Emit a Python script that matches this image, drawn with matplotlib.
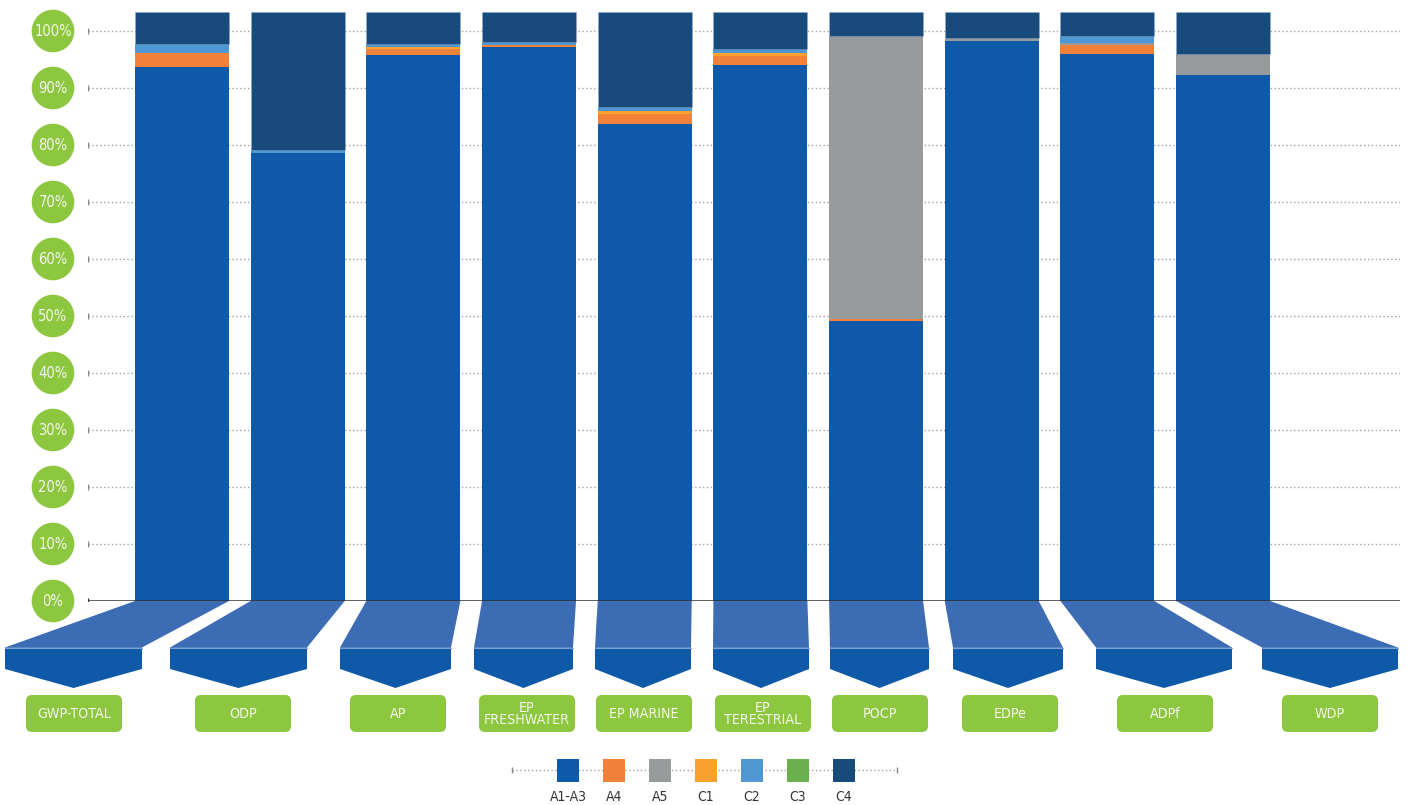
import matplotlib
matplotlib.use("Agg")
import matplotlib.pyplot as plt
from matplotlib.patches import Polygon, FancyBboxPatch, Circle, Rectangle
import numpy as np

# ---- data -------------------------------------------------------------
categories = ["GWP-TOTAL", "ODP", "AP", "EP\nFRESHWATER", "EP MARINE",
              "EP\nTERESTRIAL", "POCP", "EDPe", "ADPf", "WDP"]
stages = ["A1-A3", "A4", "A5", "C1", "C2", "C3", "C4"]

a1_a3 = [93.7, 78.6, 95.8, 97.2, 83.7, 94.0, 49.1, 98.2, 96.0, 92.3]
a4    = [2.5, 0.0, 1.05, 0.35, 1.75, 1.6, 0.35, 0.0, 1.6, 0.0]
a5    = [0.0, 0.0, 0.0, 0.0, 0.0, 0.0, 49.6, 0.5, 0.35, 3.7]
c1    = [0.0, 0.0, 0.35, 0.0, 0.5, 0.5, 0.0, 0.0, 0.0, 0.0]
c2    = [1.6, 0.6, 0.5, 0.5, 0.7, 0.7, 0.0, 0.0, 1.2, 0.0]
c3    = [0.0, 0.0, 0.0, 0.0, 0.0, 0.0, 0.0, 0.0, 0.0, 0.0]
c4    = [5.5, 24.1, 5.6, 5.25, 16.65, 6.5, 4.25, 4.6, 4.15, 7.3]

y_ticks = [0, 10, 20, 30, 40, 50, 60, 70, 80, 90, 100]

# ---- style ------------------------------------------------------------
colors = ["#0e59a8", "#f2823a", "#989b9c", "#f8a12e", "#4f97d2", "#6ab04c", "#184a7c"]
green = "#8dc63f"
funnel_light = "#3c6cb4"
funnel_dark = "#0e59a8"
text_font = dict(family="DejaVu Sans", stretch="condensed")

W, H = 1407, 805
fig = plt.figure(figsize=(W / 100, H / 100), dpi=100)

# main plotting area: 0% at y=601 px, 5.7 px per percent, x from 88 to 1400 px
step = 115.68
bar_w = 94 / step
x0 = -(182 - 88) / step
x1 = x0 + (1400 - 88) / step
ymax = 601 / 5.7
ax = fig.add_axes([88 / W, (H - 601) / H, (1400 - 88) / W, 601 / H])
ax.set_xlim(x0, x1)
ax.set_ylim(0, ymax)
ax.axis("off")

# dotted grid
for t in y_ticks[1:]:
    ax.plot([x0, x1], [t, t], color="#a0a0a0", lw=1.0, ls=(0, (1, 1.8)), zorder=1)
    ax.plot([x0], [t], marker="|", ms=5, color="#888888", mew=1, zorder=1)
ax.plot([x0, x1], [0, 0], color="#333333", lw=1.1, zorder=5)
ax.plot([x0], [0], marker="|", ms=5, color="#333333", mew=1, zorder=5)

series = [a1_a3, a4, a5, c1, c2, c3, c4]
xs = np.arange(len(categories))
bottom = np.zeros(len(categories))
for name, vals, col in zip(stages, series, colors):
    vals = np.array(vals)
    if name == "C4":
        ax.bar(xs, vals, bar_w, bottom=bottom, color=col, zorder=3,
               edgecolor=(0.55, 0.67, 0.80, 0.45), linewidth=0.7)
    else:
        ax.bar(xs, vals, bar_w, bottom=bottom, color=col, zorder=3, linewidth=0)
    bottom += vals

# ---- overlay in pixel units -------------------------------------------
ov = fig.add_axes([0, 0, 1, 1])
ov.set_xlim(0, W)
ov.set_ylim(H, 0)
ov.axis("off")
ov.patch.set_alpha(0)


def to_px(x, y):
    dx, dy = ax.transData.transform((x, y))
    return dx, H - dy


# y-axis labels in green circles
for t in y_ticks:
    _, py = to_px(0, t)
    ov.add_patch(Circle((53, py), 21.3, color=green, lw=0, zorder=2))
    ov.text(53, py + 0.5, f"{t}%", ha="center", va="center", color="#f4f8ec",
            fontsize=10.5, zorder=3, **text_font)

# funnels below each bar
fan_centers = [73.5, 238.5, 395.5, 523.5, 643, 761, 879.5, 1008, 1164, 1330]
fan_widths = [137, 137, 111, 99, 96, 96, 99, 110, 136, 136]
label_centers = [74, 243, 398, 527, 644, 763, 880, 1010, 1165, 1330]
y_top, y_mid, y_rect, y_tip = 601, 647.5, 669, 688
for i, cat in enumerate(categories):
    bl, yb = to_px(i - bar_w / 2, 0)
    br, _ = to_px(i + bar_w / 2, 0)
    pl = fan_centers[i] - fan_widths[i] / 2
    pr = fan_centers[i] + fan_widths[i] / 2
    ov.add_patch(Polygon([(bl, yb), (br, yb), (pr, y_mid), (pl, y_mid)],
                         closed=True, color=funnel_light, lw=0, zorder=2))
    ov.add_patch(Polygon([(pl, y_mid), (pr, y_mid), (pr, y_rect),
                          (fan_centers[i], y_tip), (pl, y_rect)],
                         closed=True, color=funnel_dark, lw=0, zorder=2))
    ov.plot([pl, pr], [y_mid, y_mid], color="#7d9fd2", lw=0.8, zorder=3)
    # green label box
    lc = label_centers[i]
    ov.add_patch(FancyBboxPatch((lc - 48, 695), 96, 37,
                                boxstyle="round,pad=0,rounding_size=6",
                                color=green, lw=0, zorder=2))
    ov.text(lc, 714, cat, ha="center", va="center", color="#f4f8ec",
            fontsize=10.2, linespacing=0.9, zorder=3, **text_font)

# legend
ov.plot([512, 897], [770, 770], color="#a0a0a0", lw=1.0, ls=(0, (1, 1.8)), zorder=1)
ov.plot([512, 897], [770, 770], ls="none", marker="|", ms=5, color="#888888", zorder=1)
for i, (name, col) in enumerate(zip(stages, colors)):
    cx = 568 + i * 46
    ov.add_patch(Rectangle((cx - 11, 759), 22, 23, color=col, lw=0, zorder=2))
    ov.text(cx, 797, name, ha="center", va="center", color="#333333",
            fontsize=10, **text_font)

fig.savefig("out.png", dpi=100)
